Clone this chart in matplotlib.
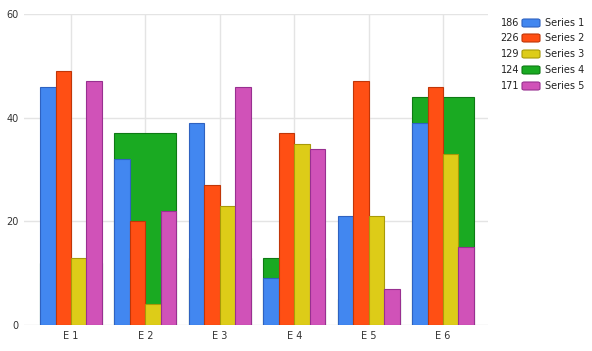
import matplotlib
matplotlib.use("Agg")
import matplotlib.pyplot as plt
from matplotlib.patches import FancyBboxPatch
import numpy as np

categories = ["E 1", "E 2", "E 3", "E 4", "E 5", "E 6"]
series_names = ["Series 1", "Series 2", "Series 3", "Series 4", "Series 5"]
s1 = [46, 32, 39, 9, 21, 39]
s2 = [49, 20, 27, 37, 47, 46]
s3 = [13, 4, 23, 35, 21, 33]
s4 = [12, 37, 13, 13, 5, 44]
s5 = [47, 22, 46, 34, 7, 15]
totals = [186, 226, 129, 124, 171]
yticks = [0, 20, 40, 60]

colors = ["#4287f0", "#ff4f14", "#ddcc18", "#1aaa22", "#d052b8"]
edges = ["#2f62c0", "#c03608", "#a89a08", "#0e7a14", "#983090"]

W, H = 592, 351
fig = plt.figure(figsize=(W / 100, H / 100), dpi=100)
x0, x1 = 24, 488
y0, y1 = 325, 14
ax = fig.add_axes([x0 / W, 1 - y0 / H, (x1 - x0) / W, (y0 - y1) / H])

band = 74.4
left_lim = -0.5 - (33.8 - x0) / band
right_lim = 5.5 + (x1 - 480.2) / band
ax.set_xlim(left_lim, right_lim)
ax.set_ylim(0, 60)

x = np.arange(len(categories))
w = 0.208

for yv in yticks:
    ax.axhline(yv, color="#e4e4e4", lw=1, zorder=0)
for xi in x:
    ax.axvline(xi, color="#e4e4e4", lw=1, zorder=0)

# Series 4 wide bar behind
ax.bar(x, s4, width=4 * w, color=colors[3], edgecolor=edges[3], lw=0.8, zorder=1)
visible = [(s1, 0, -1.5), (s2, 1, -0.5), (s3, 2, 0.5), (s5, 4, 1.5)]
for vals, ci, off in visible:
    ax.bar(x + off * w, vals, width=w, color=colors[ci], edgecolor=edges[ci], lw=0.8, zorder=2)

for s in ax.spines.values():
    s.set_visible(False)
ax.set_xticks(x)
ax.set_xticklabels(categories, fontsize=7, color="#333333")
ax.set_yticks(yticks)
ax.set_yticklabels([str(v) for v in yticks], fontsize=7, color="#333333")
ax.tick_params(axis="both", length=0, pad=4)
ax.tick_params(axis="y", pad=4)

# Legend
rows = [23, 38, 54, 70, 86]
for i, name in enumerate(series_names):
    yc = 1 - rows[i] / H
    fig.text(519 / W, yc, str(totals[i]), ha="right", va="center", fontsize=7, color="#222222")
    p = FancyBboxPatch((522 / W, yc - 4 / H), 18 / W, 8 / H,
                       boxstyle="round,pad=0,rounding_size=0.004",
                       transform=fig.transFigure, facecolor=colors[i], edgecolor=edges[i], lw=0.8)
    fig.patches.append(p)
    fig.text(545 / W, yc, name, ha="left", va="center", fontsize=7, color="#222222")

fig.savefig("out.png", dpi=100)
